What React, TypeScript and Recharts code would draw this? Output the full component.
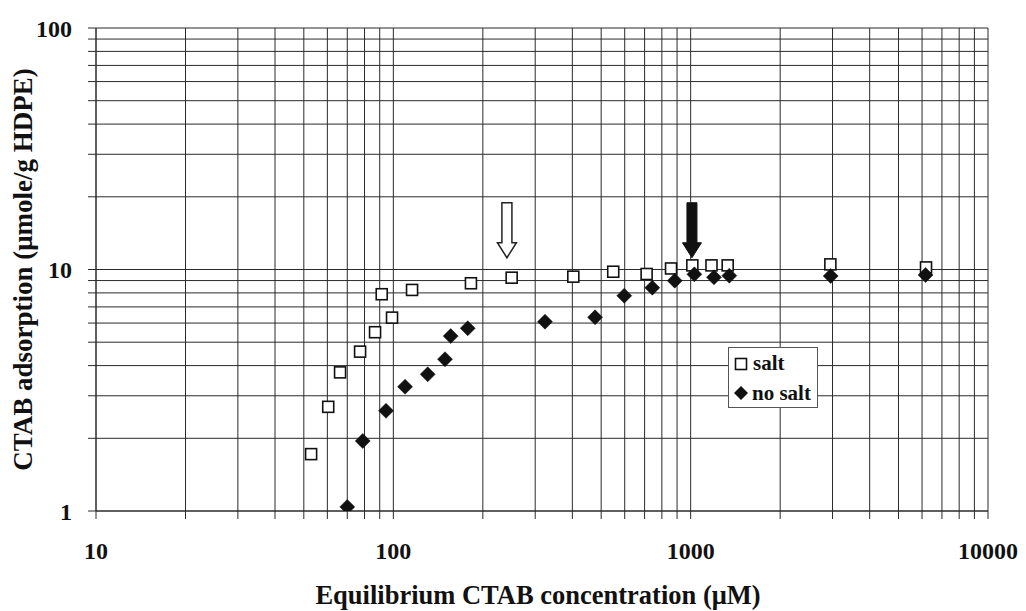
import React from 'react';
import { ScatterChart, Scatter, XAxis, YAxis, CartesianGrid, Legend, Label } from 'recharts';

const FONT = '"Liberation Serif", "Times New Roman", Times, serif';
const INK = '#111';
const GRID = '#2a2a2a';

// Tick positions (log grid) and labelled ticks
const xTicks = [10, 20, 30, 40, 50, 60, 70, 80, 90, 100, 200, 300, 400, 500, 600, 700, 800, 900, 1000, 2000, 3000, 4000, 5000, 6000, 7000, 8000, 9000, 10000];
const xLabels = [10, 100, 1000, 10000];
const yTicks = [1, 2, 3, 4, 5, 6, 7, 8, 9, 10, 20, 30, 40, 50, 60, 70, 80, 90, 100];
const yLabels = [1, 10, 100];

// salt (open squares)
const saltX = [52.9, 60.4, 66.2, 77.3, 86.8, 91.4, 99.0, 115.6, 182.4, 250, 403, 549, 711, 859, 1013, 1175, 1332, 2950, 6188];
const saltY = [1.72, 2.70, 3.75, 4.57, 5.50, 7.90, 6.32, 8.23, 8.77, 9.25, 9.34, 9.79, 9.58, 10.1, 10.4, 10.4, 10.4, 10.5, 10.2];

// no salt (filled diamonds)
const noSaltX = [70.0, 78.9, 94.5, 109.5, 130.5, 149.2, 155.9, 177.9, 323.7, 477, 598, 743, 884, 1029, 1198, 1349, 2958, 6165];
const noSaltY = [1.04, 1.95, 2.60, 3.27, 3.68, 4.25, 5.30, 5.71, 6.08, 6.34, 7.79, 8.41, 8.99, 9.55, 9.28, 9.43, 9.40, 9.49];

// arrows (top of each arrow)
const hollowArrowX = [241];
const hollowArrowTopY = [18.9];
const solidArrowX = [1010];
const solidArrowTopY = [18.9];

const saltData = saltX.map((x, i) => ({ x, y: saltY[i] }));
const noSaltData = noSaltX.map((x, i) => ({ x, y: noSaltY[i] }));
const hollowData = hollowArrowX.map((x, i) => ({ x, y: hollowArrowTopY[i] }));
const solidData = solidArrowX.map((x, i) => ({ x, y: solidArrowTopY[i] }));

const SquareShape = (props: any) => {
  const { cx, cy } = props;
  if (cx == null || cy == null) return null;
  return <rect x={cx - 5.5} y={cy - 5.5} width={11} height={11} fill="#fff" stroke={INK} strokeWidth={1.6} />;
};

const DiamondShape = (props: any) => {
  const { cx, cy } = props;
  if (cx == null || cy == null) return null;
  const r = 7.5;
  return <polygon points={`${cx},${cy - r} ${cx + r},${cy} ${cx},${cy + r} ${cx - r},${cy}`} fill={INK} stroke={INK} strokeWidth={0.5} />;
};

const arrowPoints = (cx: number, cy: number) => {
  const sw = 5, hw = 9.5, len = 55, head = 15;
  return [
    [cx - sw, cy], [cx + sw, cy], [cx + sw, cy + len - head], [cx + hw, cy + len - head],
    [cx, cy + len], [cx - hw, cy + len - head], [cx - sw, cy + len - head],
  ].map((p) => p.join(',')).join(' ');
};

const HollowArrow = (props: any) => {
  const { cx, cy } = props;
  if (cx == null || cy == null) return null;
  return <polygon points={arrowPoints(cx, cy)} fill="#fff" stroke="#222" strokeWidth={1.5} strokeLinejoin="miter" />;
};

const SolidArrow = (props: any) => {
  const { cx, cy } = props;
  if (cx == null || cy == null) return null;
  return <polygon points={arrowPoints(cx, cy)} fill={INK} stroke={INK} strokeWidth={1} />;
};

const LegendBox = () => (
  <div
    style={{
      width: 88,
      height: 59,
      border: '1px solid #555',
      background: '#fff',
      fontFamily: FONT,
      fontWeight: 'bold',
      fontSize: 21,
      color: INK,
      lineHeight: 1,
    }}
  >
    <div style={{ display: 'flex', alignItems: 'center', height: 31, paddingLeft: 5 }}>
      <svg width={14} height={14} style={{ display: 'block' }}>
        <rect x={1.5} y={1.5} width={11} height={11} fill="#fff" stroke={INK} strokeWidth={1.6} />
      </svg>
      <span style={{ marginLeft: 5 }}>salt</span>
    </div>
    <div style={{ display: 'flex', alignItems: 'center', height: 28, paddingLeft: 5 }}>
      <svg width={14} height={14} style={{ display: 'block' }}>
        <polygon points="7,0 14,7 7,14 0,7" fill={INK} />
      </svg>
      <span style={{ marginLeft: 4 }}>no salt</span>
    </div>
  </div>
);

const tickStyle = { fontSize: 24, fontFamily: FONT, fontWeight: 'bold' as const, fill: INK };

export default function App() {
  return (
    <ScatterChart width={1010} height={603} margin={{ top: 20, right: 30, bottom: 0, left: 0 }}>
      <CartesianGrid stroke={GRID} strokeWidth={1} />
      <XAxis
        type="number"
        dataKey="x"
        scale="log"
        domain={[10, 10000]}
        allowDataOverflow
        ticks={xTicks}
        interval={0}
        tickFormatter={(v: number) => (xLabels.includes(v) ? String(v) : '')}
        tick={tickStyle}
        tickSize={8}
        tickMargin={23}
        tickLine={{ stroke: GRID }}
        axisLine={{ stroke: GRID }}
        height={100}
      >
        <Label
          content={(p: any) => {
            const vb = p.viewBox || {};
            const x = vb.x + vb.width / 2 - 4;
            const y = vb.y + 93;
            return (
              <text x={x} y={y} textAnchor="middle" fontFamily={FONT} fontWeight="bold" fontSize={26.5} fill={INK}>
                Equilibrium CTAB concentration (μM)
              </text>
            );
          }}
        />
      </XAxis>
      <YAxis
        type="number"
        dataKey="y"
        scale="log"
        domain={[1, 100]}
        allowDataOverflow
        ticks={yTicks}
        interval={0}
        tickFormatter={(v: number) => (yLabels.includes(v) ? String(v) : '')}
        tick={tickStyle}
        tickSize={8}
        tickMargin={16}
        tickLine={{ stroke: GRID }}
        axisLine={{ stroke: GRID }}
        width={88}
      >
        <Label
          content={(p: any) => {
            const vb = p.viewBox || {};
            const x = vb.x + 24;
            const y = vb.y + vb.height / 2;
            return (
              <text
                x={x}
                y={y}
                transform={`rotate(-90 ${x} ${y})`}
                textAnchor="middle"
                fontFamily={FONT}
                fontWeight="bold"
                fontSize={27}
                fill={INK}
              >
                CTAB adsorption (μmole/g HDPE)
              </text>
            );
          }}
        />
      </YAxis>
      <Legend
        layout="horizontal"
        verticalAlign="middle"
        align="center"
        content={() => <LegendBox />}
        wrapperStyle={{ left: 720, top: 339, width: 'auto' }}
      />
      <Scatter name="salt" data={saltData} shape={SquareShape} isAnimationActive={false} />
      <Scatter name="no salt" data={noSaltData} shape={DiamondShape} isAnimationActive={false} />
      <Scatter name="hollow arrow" data={hollowData} shape={HollowArrow} isAnimationActive={false} legendType="none" />
      <Scatter name="solid arrow" data={solidData} shape={SolidArrow} isAnimationActive={false} legendType="none" />
    </ScatterChart>
  );
}
